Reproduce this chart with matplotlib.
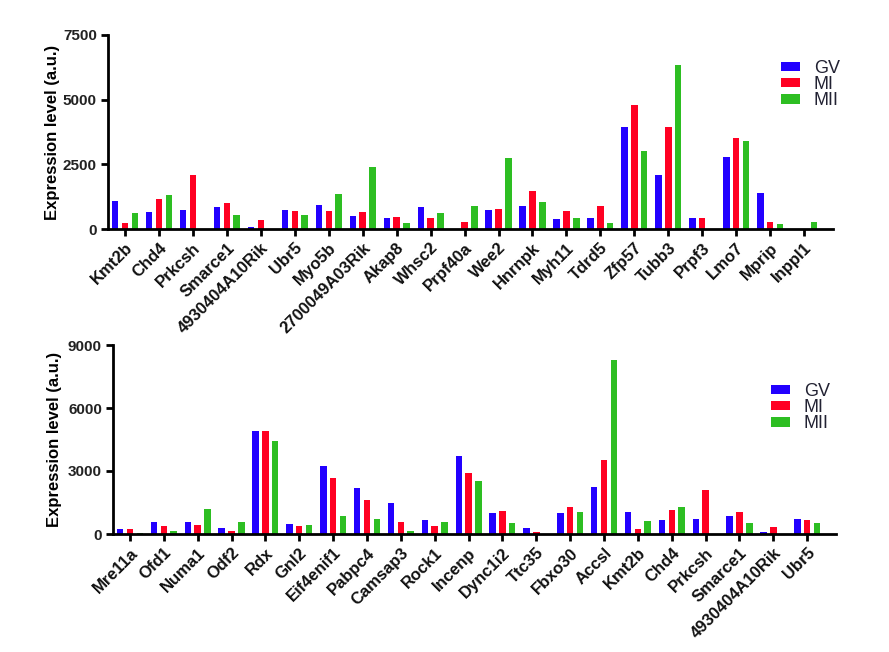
import matplotlib
matplotlib.use("Agg")
import matplotlib.pyplot as plt
import numpy as np
from matplotlib.patches import Patch

plt.rcParams['font.family'] = ['Liberation Sans', 'DejaVu Sans']

top_genes = ["Kmt2b", "Chd4", "Prkcsh", "Smarce1", "4930404A10Rik", "Ubr5", "Myo5b",
             "2700049A03Rik", "Akap8", "Whsc2", "Prpf40a", "Wee2", "Hnrnpk", "Myh11",
             "Tdrd5", "Zfp57", "Tubb3", "Prpf3", "Lmo7", "Mprip", "Inppl1"]
top_gv = [1070, 657, 735, 838, 90, 748, 928, 516, 425, 838, 0, 735, 876, 374, 412,
          3944, 2088, 412, 2797, 1392, 0]
top_mi = [245, 1160, 2088, 1018, 335, 696, 696, 657, 464, 425, 271, 773, 1482, 696, 876,
          4782, 3944, 412, 3532, 271, 0]
top_mii = [606, 1302, 0, 541, 0, 554, 1353, 2410, 232, 606, 876, 2745, 1057, 412, 232,
           3016, 6355, 0, 3390, 180, 271]

bot_genes = ["Mre11a", "Ofd1", "Numa1", "Odf2", "Rdx", "Gnl2", "Eif4enif1", "Pabpc4",
             "Camsap3", "Rock1", "Incenp", "Dync1i2", "Ttc35", "Fbxo30", "Accsl", "Kmt2b",
             "Chd4", "Prkcsh", "Smarce1", "4930404A10Rik", "Ubr5"]
bot_gv = [238, 555, 555, 301, 4914, 491, 3233, 2171, 1490, 682, 3709, 983, 285, 983, 2219,
          1030, 666, 713, 856, 95, 713]
bot_mi = [238, 365, 428, 127, 4914, 365, 2679, 1617, 555, 365, 2900, 1094, 111, 1284, 3519,
          222, 1157, 2092, 1030, 349, 666]
bot_mii = [60, 127, 1173, 555, 4406, 428, 872, 729, 127, 555, 2520, 539, 0, 1030, 8305,
           602, 1284, 0, 539, 0, 539]

series_names = ["GV", "MI", "MII"]
colors = ["#2200FF", "#FF0022", "#2DBE22"]

W, H = 889, 652
fig = plt.figure(figsize=(W / 100, H / 100), dpi=100)


def make_axes(left, right, top, bottom):
    return fig.add_axes([left / W, 1 - bottom / H, (right - left) / W, (bottom - top) / H])


def draw(ax, genes, vals, ymax, yticks, legend_anchor):
    x = np.arange(len(genes))
    offs = [-0.29, 0.0, 0.29]
    for v, c, o, name in zip(vals, colors, offs, series_names):
        ax.bar(x + o, v, width=0.19, color=c, edgecolor='none', label=name)
    ax.set_xlim(-0.5, len(genes) - 0.15)
    ax.set_ylim(0, ymax)
    ax.set_yticks(yticks)
    ax.set_yticklabels([str(t) for t in yticks], fontsize=11, fontweight='bold', color='#222222')
    ax.set_xticks(x)
    ax.set_xticklabels(genes, rotation=45, ha='right', rotation_mode='anchor',
                       fontsize=12, fontweight='bold', color='#111111')
    for s in ['top', 'right']:
        ax.spines[s].set_visible(False)
    for s in ['left', 'bottom']:
        ax.spines[s].set_linewidth(2)
    ax.tick_params(axis='both', width=2, length=5, direction='out', pad=3)
    ax.set_ylabel("Expression level (a.u.)", fontsize=12, fontweight='bold')
    handles = [Patch(facecolor=c, edgecolor='none') for c in colors]
    leg = ax.legend(handles, series_names, loc='upper left', bbox_to_anchor=legend_anchor,
                    frameon=False, fontsize=13, handlelength=1.05, handleheight=0.4,
                    labelspacing=-0.05, handletextpad=0.75, borderaxespad=0)
    for t in leg.get_texts():
        t.set_color('#222233')


ax1 = make_axes(108, 833, 35, 229)
draw(ax1, top_genes, [top_gv, top_mi, top_mii], 7500, [0, 2500, 5000, 7500],
     ((774 - 108) / (833 - 108), (229 - 53) / (229 - 35)))
ax1.yaxis.set_label_coords(-0.066, 0.5)

ax2 = make_axes(113, 836, 345, 534)
draw(ax2, bot_genes, [bot_gv, bot_mi, bot_mii], 9000, [0, 3000, 6000, 9000],
     ((764 - 113) / (836 - 113), (534 - 376) / (534 - 345)))
ax2.yaxis.set_label_coords(-0.0705, 0.5)

fig.savefig("out.png", dpi=100)
